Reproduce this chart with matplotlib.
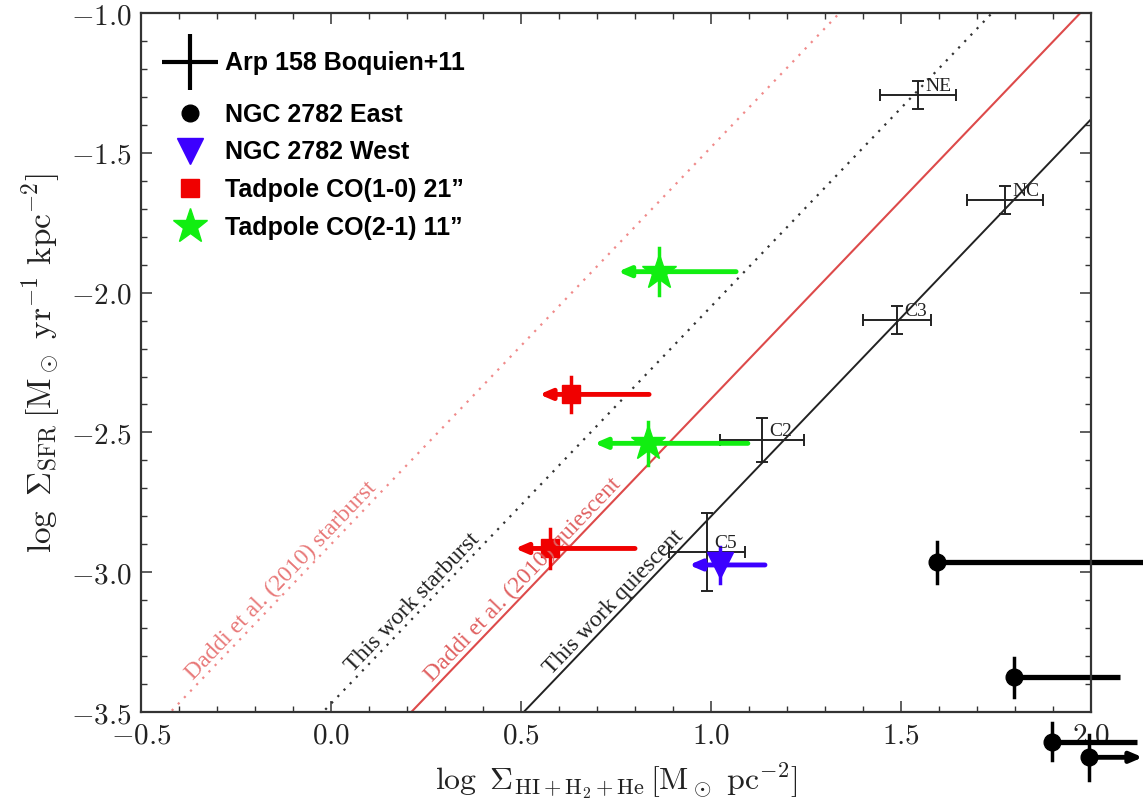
import numpy as np
import matplotlib
matplotlib.use("Agg")
import matplotlib.pyplot as plt
from matplotlib.lines import Line2D
from matplotlib.ticker import MultipleLocator, FuncFormatter

plt.rcParams['mathtext.fontset'] = 'cm'

# Kennicutt-Schmidt relations: log SFR = slope * log Sigma_gas + intercept
ks_slope = 1.42
ks_intercepts = {
    'daddi_sb': -2.90,
    'this_sb': -3.47,
    'daddi_q': -3.80,
    'this_q': -4.22,
}

# Arp 158 regions (Boquien+11)
arp_names = ['NE', 'NC', 'C3', 'C2', 'C5']
arp_x = [1.545, 1.774, 1.489, 1.134, 0.989]
arp_y = [-1.293, -1.669, -2.098, -2.527, -2.928]
arp_xerr = [0.10, 0.10, 0.09, 0.11, 0.10]
arp_yerr = [0.05, 0.05, 0.05, 0.08, 0.14]

# NGC 2782 East
east_x = [1.594, 1.797, 1.898, 1.995]
east_y = [-2.965, -3.376, -3.606, -3.662]
east_yerr = [0.072, 0.071, 0.067, 0.08]
east_xhi = [2.15, 2.076, 2.12, 2.136]

# NGC 2782 West (upper limit in gas)
west_x = [1.024]
west_y = [-2.974]
west_yerr = [0.066]
west_xlo = [0.942]
west_xhi = [1.142]

# Tadpole CO(1-0) 21"
co10_x = [0.632, 0.576]
co10_y = [-2.364, -2.915]
co10_yerr = [0.064, 0.07]
co10_xlo = [0.548, 0.484]
co10_xhi = [0.837, 0.80]

# Tadpole CO(2-1) 11"
co21_x = [0.864, 0.835]
co21_y = [-1.925, -2.539]
co21_yerr = [0.085, 0.076]
co21_xlo = [0.755, 0.693]
co21_xhi = [1.066, 1.097]

c_red = '#f00000'
c_green = '#11ee11'
c_blue = '#3c00ff'
c_daddi = '#dd4a4a'
c_daddi_sb = '#f08a8a'

arrow_style = '-|>,head_length=0.35,head_width=0.15'

fig = plt.figure(figsize=(11.43, 8.05), dpi=100)
ax = fig.add_axes([0.1234, 0.1155, 0.8311, 0.8683])

# relations
xs = np.array([-0.5, 2.0])
ax.plot(xs, ks_slope * xs + ks_intercepts['daddi_sb'], color=c_daddi_sb, lw=1.6, ls=(0, (1, 3)))
ax.plot(xs, ks_slope * xs + ks_intercepts['this_sb'], color='#333333', lw=1.6, ls=(0, (1, 3)))
ax.plot(xs, ks_slope * xs + ks_intercepts['daddi_q'], color=c_daddi, lw=1.5)
ax.plot(xs, ks_slope * xs + ks_intercepts['this_q'], color='#222222', lw=1.4)

rel_labels = [
    ('Daddi et al. (2010) starburst', 'daddi_sb', -0.11, '#e87878'),
    ('This work starburst', 'this_sb', 0.235, '#222222'),
    ('Daddi et al. (2010) quiescent', 'daddi_q', 0.525, '#e06060'),
    ('This work quiescent', 'this_q', 0.765, '#222222'),
]
ang = np.degrees(np.arctan(ks_slope))
for txt, key, x0, col in rel_labels:
    ax.text(x0, ks_slope * x0 + ks_intercepts[key], txt, color=col, fontsize=17,
            family='Liberation Serif', rotation=ang, rotation_mode='anchor',
            transform_rotates_text=True, ha='center', va='bottom')

# Arp 158 points
ax.errorbar(arp_x, arp_y, xerr=arp_xerr, yerr=arp_yerr, fmt='none', ecolor='#222222',
            elinewidth=1.4, capsize=4, capthick=1.4)
for name, x, y in zip(arp_names, arp_x, arp_y):
    ax.annotate(name, (x, y), xytext=(5, 0), textcoords='offset points',
                fontsize=14, family='Liberation Serif', color='#222222',
                ha='left', va='bottom')


def limit_points(xv, yv, yerr, xlo, xhi, color, marker, ms):
    # left-pointing arrows for gas upper limits
    for x, y, ye, lo, hi in zip(xv, yv, yerr, xlo, xhi):
        ax.annotate('', xy=(lo, y), xytext=(hi, y), annotation_clip=False,
                    arrowprops=dict(arrowstyle=arrow_style, color=color, lw=3.5,
                                    shrinkA=0, shrinkB=0, mutation_scale=20))
        ax.plot([x, x], [y - ye, y + ye], color=color, lw=2.5, clip_on=False)
    ax.plot(xv, yv, ls='none', marker=marker, ms=ms, color=color, clip_on=False)


limit_points(co10_x, co10_y, co10_yerr, co10_xlo, co10_xhi, c_red, 's', 13)
limit_points(co21_x, co21_y, co21_yerr, co21_xlo, co21_xhi, c_green, '*', 26)
limit_points(west_x, west_y, west_yerr, west_xlo, west_xhi, c_blue, 'v', 19)

# NGC 2782 East, running off the right edge
for i, (x, y, ye, hi) in enumerate(zip(east_x, east_y, east_yerr, east_xhi)):
    if i == len(east_x) - 1:
        ax.annotate('', xy=(hi, y), xytext=(x, y), annotation_clip=False,
                    arrowprops=dict(arrowstyle=arrow_style, color='k', lw=3.5,
                                    shrinkA=0, shrinkB=0, mutation_scale=20))
    else:
        ax.plot([x, hi], [y, y], color='k', lw=3.8, clip_on=False, solid_capstyle='butt')
    ax.plot([x, x], [y - ye, y + ye], color='k', lw=2.5, clip_on=False)
ax.plot(east_x, east_y, ls='none', marker='o', ms=12, color='k', clip_on=False)

ax.set_xlim(-0.5, 2.0)
ax.set_ylim(-3.5, -1.0)
ax.xaxis.set_major_locator(MultipleLocator(0.5))
ax.xaxis.set_minor_locator(MultipleLocator(0.1))
ax.yaxis.set_major_locator(MultipleLocator(0.5))
ax.yaxis.set_minor_locator(MultipleLocator(0.1))
fmt = FuncFormatter(lambda v, p: r'$%.1f$' % v)
ax.xaxis.set_major_formatter(fmt)
ax.yaxis.set_major_formatter(fmt)
ax.tick_params(which='both', direction='in', top=True, right=True, colors='#333333',
               labelcolor='#222222', labelsize=21)
ax.tick_params(which='major', length=8, width=1.1, pad=7)
ax.tick_params(which='minor', length=4, width=1.0)
for sp in ax.spines.values():
    sp.set_linewidth(1.6)
    sp.set_color('#333333')

ax.set_xlabel(r'$\log\ \Sigma_{\rm HI+H_2+He}\,[{\rm M_\odot\ pc^{-2}}]$', fontsize=23,
              color='#222222', labelpad=8)
ax.set_ylabel(r'$\log\ \Sigma_{\rm SFR}\,[{\rm M_\odot\ yr^{-1}\ kpc^{-2}}]$', fontsize=24,
              color='#222222', labelpad=6)

# legends
leg_font = dict(family='Liberation Sans', weight='bold', size=18)
h_arp = Line2D([], [], ls='none', marker='+', ms=40, mew=3, color='k')
leg1 = ax.legend([h_arp], ['Arp 158 Boquien+11'], loc='upper left',
                 bbox_to_anchor=(0.0253, 0.945), frameon=False, prop=leg_font,
                 borderpad=0, borderaxespad=0, handlelength=2, handletextpad=0.4)
ax.add_artist(leg1)
h_east = Line2D([], [], ls='none', marker='o', ms=12, color='k')
h_west = Line2D([], [], ls='none', marker='v', ms=19, color=c_blue)
h_co10 = Line2D([], [], ls='none', marker='s', ms=13, color=c_red)
h_co21 = Line2D([], [], ls='none', marker='*', ms=26, color=c_green)
ax.legend([h_east, h_west, h_co10, h_co21],
          ['NGC 2782 East', 'NGC 2782 West', 'Tadpole CO(1-0) 21\u201d',
           'Tadpole CO(2-1) 11\u201d'],
          loc='upper left', bbox_to_anchor=(0.0253, 0.872), frameon=False,
          prop=leg_font, borderpad=0, borderaxespad=0, handlelength=2,
          handletextpad=0.4, labelspacing=0.55)

fig.savefig('out.png', dpi=100)
